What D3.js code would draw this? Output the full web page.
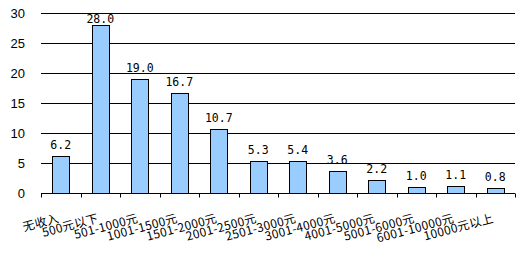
<!DOCTYPE html>
<html>
<head>
<meta charset="utf-8">
<script src="https://cdn.jsdelivr.net/npm/d3@7"></script>
<style>
  body { margin: 0; background: #fff; }
</style>
</head>
<body>
<div id="chart"></div>
<script>
const categories = ['无收入', '500元以下', '501-1000元', '1001-1500元', '1501-2000元', '2001-2500元',
    '2501-3000元', '3001-4000元', '4001-5000元', '5001-6000元', '6001-10000元', '10000元以上']
const values = [6.2, 28.0, 19.0, 16.7, 10.7, 5.3, 5.4, 3.6, 2.2, 1.0, 1.1, 0.8]
const yTicks = [0, 5, 10, 15, 20, 25, 30]

const W = 525, H = 257
const margin = { top: 13, right: 10, bottom: 64, left: 41 }

const svg = d3.select('#chart')
    .append('svg')
    .attr('width', W)
    .attr('height', H)

const x = d3.scaleBand()
    .domain(categories)
    .range([margin.left, W - margin.right])
    .padding(0)

const y = d3.scaleLinear()
    .domain([0, 30])
    .range([H - margin.bottom, margin.top])

// horizontal grid lines
svg.append('g')
    .selectAll('line')
    .data(yTicks.filter(d => d > 0))
    .enter()
    .append('line')
    .attr('x1', margin.left)
    .attr('x2', W - margin.right)
    .attr('y1', d => Math.round(y(d)) + 0.5)
    .attr('y2', d => Math.round(y(d)) + 0.5)
    .attr('stroke', '#000')

// y labels
svg.append('g')
    .selectAll('text')
    .data(yTicks)
    .enter()
    .append('text')
    .attr('x', 25)
    .attr('y', d => y(d))
    .attr('dy', '0.35em')
    .attr('text-anchor', 'end')
    .style('font-family', 'Liberation Sans, Arial, sans-serif')
    .style('font-size', '13px')
    .text(d => d)

// bars
const barW = x.bandwidth() * 0.44
svg.append('g')
    .selectAll('rect')
    .data(values)
    .enter()
    .append('rect')
    .attr('x', (d, i) => Math.round(x(categories[i]) + (x.bandwidth() - barW) / 2) + 0.5)
    .attr('y', d => Math.round(y(d)) + 0.5)
    .attr('width', Math.round(barW))
    .attr('height', d => Math.round(y(0)) - Math.round(y(d)))
    .attr('fill', '#99ccff')
    .attr('stroke', '#000')

// value labels
svg.append('g')
    .selectAll('text')
    .data(values)
    .enter()
    .append('text')
    .attr('x', (d, i) => x(categories[i]) + x.bandwidth() / 2)
    .attr('y', d => Math.max(y(d) - 7, y(30) + 10))
    .attr('text-anchor', 'middle')
    .style('font-family', 'DejaVu Sans Mono, monospace')
    .style('font-size', '11.5px')
    .text(d => d.toFixed(1))

// x axis line and boundary ticks
const axisY = Math.round(y(0)) + 0.5
svg.append('line')
    .attr('x1', margin.left)
    .attr('x2', W - margin.right)
    .attr('y1', axisY)
    .attr('y2', axisY)
    .attr('stroke', '#000')

const bounds = categories.map(c => x(c)).concat([x.range()[1]])
svg.append('g')
    .selectAll('line')
    .data(bounds)
    .enter()
    .append('line')
    .attr('x1', d => Math.round(d) + 0.5)
    .attr('x2', d => Math.round(d) + 0.5)
    .attr('y1', axisY)
    .attr('y2', axisY + 4)
    .attr('stroke', '#000')

// slanted category labels
svg.append('g')
    .selectAll('text')
    .data(categories)
    .enter()
    .append('text')
    .attr('transform', d => `translate(${x(d) + x.bandwidth() / 2 - 1}, 222)rotate(-15)`)
    .attr('text-anchor', 'end')
    .style('font-family', 'Noto Sans CJK SC, sans-serif')
    .style('font-size', '12px')
    .style('letter-spacing', '0.3px')
    .text(d => d)
</script>
</body>
</html>
